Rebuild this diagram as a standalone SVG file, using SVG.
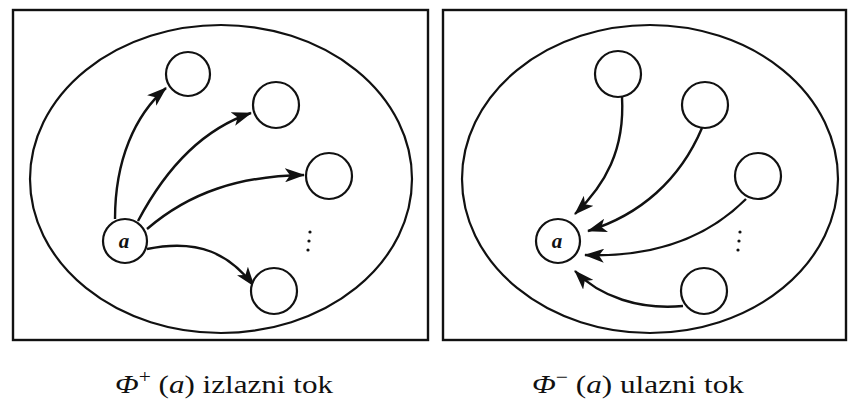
<svg xmlns="http://www.w3.org/2000/svg" width="850" height="400" viewBox="0 0 850 400">
<defs>
<style>
.frame{fill:none;stroke:#111;stroke-width:2.4}
.ell{fill:none;stroke:#111;stroke-width:2.2}
.node{fill:#fff;stroke:#111;stroke-width:2.2}
.edge{fill:none;stroke:#111;stroke-width:2.4;marker-end:url(#arr)}
.dot{fill:#111}
</style>
<marker id="arr" viewBox="0 0 20 14" refX="19" refY="7" markerWidth="20" markerHeight="14" markerUnits="userSpaceOnUse" orient="auto">
<path d="M0,0 L20,7 L0,14 L5,7 Z" fill="#111"/>
</marker>
</defs>
<rect width="850" height="400" fill="#fff"/>
<g id="panel-left">
<rect class="frame" x="13" y="10" width="415" height="330"/>
<ellipse class="ell" cx="221" cy="179" rx="191" ry="154"/>
</g>
<g id="panel-right">
<rect class="frame" x="443" y="10" width="403" height="330"/>
<ellipse class="ell" cx="650" cy="179" rx="188" ry="154"/>
</g>
<g id="connectors">
<path class="edge" d="M115,219 C115,160 135,115 166,88"/>
<path class="edge" d="M138,221 C165,170 200,130 251,113"/>
<path class="edge" d="M147,229 C190,192 240,176 304,175"/>
<path class="edge" d="M147,249 C200,238 230,255 254,286"/>
<path class="edge" d="M622,97 C625,150 605,185 575,214"/>
<path class="edge" d="M702,128 C680,180 640,215 588,231"/>
<path class="edge" d="M746,199 C700,245 640,257 585,255"/>
<path class="edge" d="M683,306 C640,310 600,297 575,271"/>
</g>
<g id="L-a"><circle class="node" cx="125" cy="241" r="22"/><text x="124" y="248" font-family="Liberation Serif, serif" font-size="21" font-style="italic" font-weight="bold" text-anchor="middle" fill="#111">a</text></g>
<g id="L-n1"><circle class="node" cx="188" cy="74" r="22"/></g>
<g id="L-n2"><circle class="node" cx="276" cy="105" r="23"/></g>
<g id="L-n3"><circle class="node" cx="329" cy="176" r="23"/></g>
<g id="L-n4"><circle class="node" cx="274" cy="291" r="23"/></g>
<g id="L-dots"><circle class="dot" cx="310" cy="232" r="1.6"/><circle class="dot" cx="309" cy="241" r="1.6"/><circle class="dot" cx="308" cy="250" r="1.6"/></g>
<g id="R-a"><circle class="node" cx="558" cy="241" r="22"/><text x="557" y="248" font-family="Liberation Serif, serif" font-size="21" font-style="italic" font-weight="bold" text-anchor="middle" fill="#111">a</text></g>
<g id="R-n1"><circle class="node" cx="618" cy="74" r="23"/></g>
<g id="R-n2"><circle class="node" cx="705" cy="105" r="23"/></g>
<g id="R-n3"><circle class="node" cx="758" cy="176" r="23"/></g>
<g id="R-n4"><circle class="node" cx="704" cy="291" r="23"/></g>
<g id="R-dots"><circle class="dot" cx="740" cy="232" r="1.6"/><circle class="dot" cx="739" cy="241" r="1.6"/><circle class="dot" cx="738" cy="250" r="1.6"/></g>
<g id="labels" font-family="Liberation Serif, Times New Roman, serif" font-size="26" fill="#111">
<text x="115" y="393" textLength="218" lengthAdjust="spacingAndGlyphs"><tspan font-style="italic">Φ</tspan><tspan font-size="18" dy="-10">+</tspan><tspan dy="10"> (</tspan><tspan font-style="italic">a</tspan>) izlazni tok</text>
<text x="532" y="393" textLength="212" lengthAdjust="spacingAndGlyphs"><tspan font-style="italic">Φ</tspan><tspan font-size="18" dy="-10">−</tspan><tspan dy="10"> (</tspan><tspan font-style="italic">a</tspan>) ulazni tok</text>
</g>
</svg>
